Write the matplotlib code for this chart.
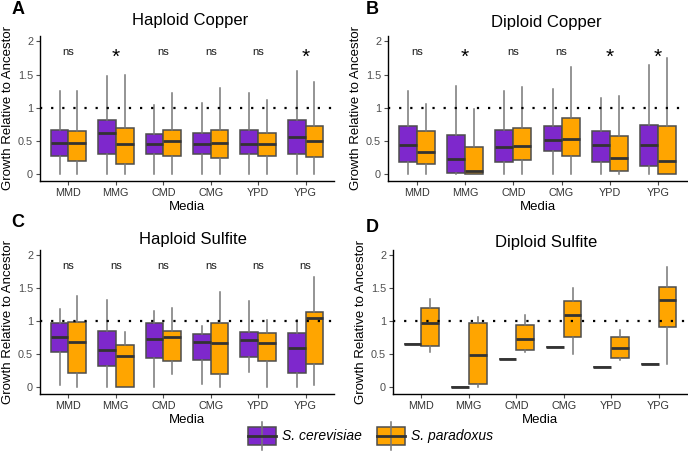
import matplotlib
matplotlib.use("Agg")
import matplotlib.pyplot as plt
from matplotlib.patches import Rectangle

plt.rcParams['font.family'] = ['Liberation Sans', 'DejaVu Sans']

W, H = 688, 451

media = ['MMD', 'MMG', 'CMD', 'CMG', 'YPD', 'YPG']
purple = '#7E28CC'
orange = '#FFA500'

# box stats: whislo, q1, med, q3, whishi  (per media)
hapcu_cer = [[0, 0.27, 0.47, 0.67, 1.26], [0, 0.31, 0.62, 0.82, 1.48], [0, 0.30, 0.45, 0.60, 1.04],
             [0, 0.31, 0.46, 0.62, 1.07], [0, 0.30, 0.46, 0.67, 1.22], [0, 0.30, 0.56, 0.82, 1.55]]
hapcu_par = [[0, 0.20, 0.47, 0.65, 1.26], [0, 0.16, 0.46, 0.70, 1.50], [0, 0.28, 0.50, 0.67, 1.23],
             [0, 0.24, 0.47, 0.66, 1.30], [0, 0.27, 0.46, 0.62, 1.12], [0, 0.26, 0.50, 0.72, 1.39]]
hapcu_sig = ['ns', '*', 'ns', 'ns', 'ns', '*']

dipcu_cer = [[0, 0.18, 0.44, 0.72, 1.26], [0, 0.02, 0.23, 0.59, 1.33], [0, 0.19, 0.41, 0.66, 1.26],
             [0, 0.35, 0.52, 0.73, 1.28], [0, 0.18, 0.44, 0.65, 1.15], [0, 0.13, 0.44, 0.74, 1.65]]
dipcu_par = [[0, 0.15, 0.33, 0.65, 1.06], [0, 0.0, 0.05, 0.41, 0.98], [0, 0.22, 0.43, 0.70, 1.32],
             [0, 0.28, 0.53, 0.84, 1.62], [0, 0.05, 0.24, 0.57, 1.18], [0, 0.0, 0.20, 0.72, 1.75]]
dipcu_sig = ['ns', '*', 'ns', 'ns', '*', '*']

hapsu_cer = [[0.035, 0.53, 0.76, 0.98, 1.18], [0, 0.32, 0.57, 0.85, 1.33], [0, 0.44, 0.74, 0.98, 1.16],
             [0.05, 0.42, 0.68, 0.81, 0.93], [0.24, 0.46, 0.71, 0.84, 1.31], [0, 0.22, 0.59, 0.83, 1.02]]
hapsu_par = [[0, 0.22, 0.69, 0.99, 1.39], [0, 0.0, 0.47, 0.64, 0.84], [0.2, 0.40, 0.77, 0.86, 1.20],
             [0, 0.21, 0.67, 0.97, 1.45], [0, 0.40, 0.67, 0.83, 1.02], [0.035, 0.35, 1.05, 1.14, 1.67]]
hapsu_sig = ['ns', 'ns', 'ns', 'ns', 'ns', 'ns']

dipsu_cer = [0.65, 0.0, 0.43, 0.61, 0.31, 0.35]  # single replicate each
dipsu_par = [[0.53, 0.63, 0.98, 1.20, 1.34], [0.0, 0.045, 0.49, 0.97, 1.07], [0.53, 0.56, 0.73, 0.94, 1.10],
             [0.50, 0.77, 1.09, 1.31, 1.51], [0.41, 0.44, 0.60, 0.76, 0.87], [0.36, 0.92, 1.33, 1.52, 1.82]]
dipsu_sig = None

panels = [
    ('A', 'Haploid Copper', hapcu_cer, hapcu_par, hapcu_sig, (40, 334, 36, 181), (18, 9), (190, 21)),
    ('B', 'Diploid Copper', dipcu_cer, dipcu_par, dipcu_sig, (388, 687, 36, 181), (372, 9), (546, 23)),
    ('C', 'Haploid Sulfite', hapsu_cer, hapsu_par, hapsu_sig, (40, 334, 250, 394), (18, 223), (193, 240)),
    ('D', 'Diploid Sulfite', [[v] * 5 for v in dipsu_cer], dipsu_par, dipsu_sig, (393, 687, 250, 394), (372, 228), (546, 242)),
]

fig = plt.figure(figsize=(W / 100, H / 100), dpi=100)


def to_stats(rows):
    return [dict(whislo=r[0], q1=r[1], med=r[2], q3=r[3], whishi=r[4], fliers=[]) for r in rows]


def draw_boxes(ax, rows, pos, color):
    ax.bxp(to_stats(rows), positions=pos, widths=0.375, patch_artist=True, showcaps=False,
           boxprops=dict(facecolor=color, edgecolor='#4d4d4d', linewidth=1.1),
           medianprops=dict(color='#333333', linewidth=2.0),
           whiskerprops=dict(color='#777777', linewidth=1.1),
           zorder=3)


for letter, title, cer, par, sig, (l, r, t, b), lpos, tpos in panels:
    ax = fig.add_axes([l / W, 1 - b / H, (r - l) / W, (b - t) / H])
    x = list(range(1, len(media) + 1))
    draw_boxes(ax, cer, [i - 0.1875 for i in x], purple)
    draw_boxes(ax, par, [i + 0.1875 for i in x], orange)
    ax.axhline(1, color='black', linestyle=(0, (1, 4)), linewidth=1.6, zorder=4)
    if sig is not None:
        for i, s in zip(x, sig):
            if s == '*':
                ax.text(i, 1.76, s, ha='center', va='center', fontsize=15, color='black')
            else:
                ax.text(i, 1.84, s, ha='center', va='center', fontsize=8, color='#1a1a1a')
    ax.set_xlim(0.4, 6.6)
    ax.set_ylim(-0.1, 2.08)
    ax.set_xticks(x)
    ax.set_xticklabels(media)
    ax.set_yticks([0, 0.5, 1, 1.5, 2])
    ax.set_yticklabels(['0', '0.5', '1', '1.5', '2'])
    ax.tick_params(labelsize=7.8, colors='#4d4d4d', length=3, width=0.8, pad=2)
    ax.tick_params(axis='x', labelcolor='#333333')
    ax.tick_params(axis='y', labelcolor='#4d4d4d')
    for sp in ['top', 'right']:
        ax.spines[sp].set_visible(False)
    for sp in ['left', 'bottom']:
        ax.spines[sp].set_color('black')
        ax.spines[sp].set_linewidth(1.0)
    ax.set_xlabel('Media', fontsize=9.5, labelpad=2)
    ax.set_ylabel('Growth Relative to Ancestor', fontsize=9.5, labelpad=3)
    fig.text(lpos[0] / W, 1 - lpos[1] / H, letter, fontsize=13, fontweight='bold', ha='center', va='center')
    fig.text(tpos[0] / W, 1 - tpos[1] / H, title, fontsize=12, ha='center', va='center')

# legend
leg = fig.add_axes([0, 0, 1, 1], zorder=-1)
leg.set_xlim(0, W)
leg.set_ylim(H, 0)
leg.axis('off')
for x0, col, name in [(248, purple, 'S. cerevisiae'), (377, orange, 'S. paradoxus')]:
    leg.plot([x0 + 14, x0 + 14], [422, 450], color='#777777', lw=1.1)
    leg.add_patch(Rectangle((x0, 427), 28, 18, facecolor=col, edgecolor='#4d4d4d', lw=1.1))
    leg.plot([x0, x0 + 28], [436, 436], color='#333333', lw=2.0)
    leg.text(x0 + 34, 436, name, fontsize=10, fontstyle='italic', va='center', ha='left')

fig.savefig('out.png', dpi=100)
